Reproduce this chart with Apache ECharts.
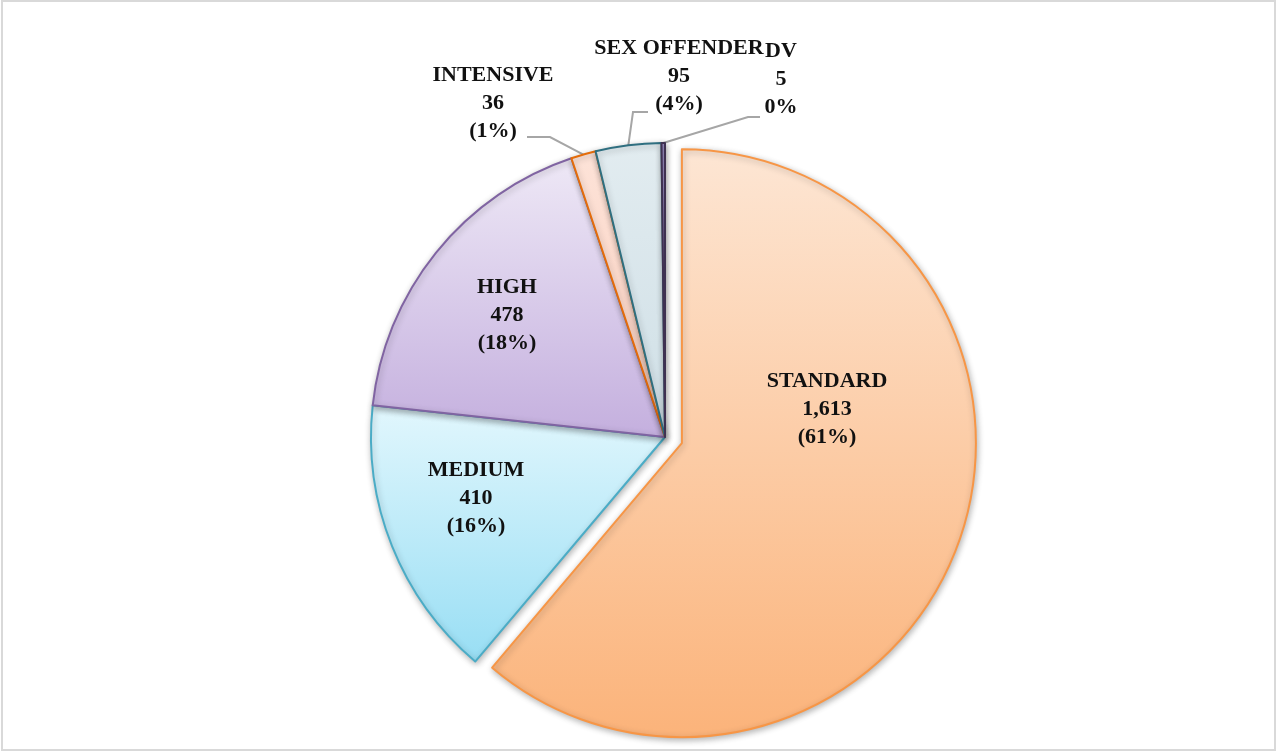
<!DOCTYPE html>
<html>
<head>
<meta charset="utf-8">
<script src="https://cdn.jsdelivr.net/npm/echarts@6/dist/echarts.min.js"></script>
<style>
html,body{margin:0;padding:0;background:#fff;}
#chart{width:1278px;height:754px;}
</style>
</head>
<body>
<div id="chart"></div>
<script>
// ---- data ----
const categories = ['STANDARD', 'MEDIUM', 'HIGH', 'INTENSIVE', 'SEX OFFENDER', 'DV'];
const values = [1613, 410, 478, 36, 95, 5];
const percentInParens = [true, true, true, true, true, false];

// ---- styles / layout ----
const fillTop = ['#fde6d4', '#e2f7fd', '#eee8f6', '#fde3d8', '#e2ecf0', '#9a8cc0'];
const fillBottom = ['#fbb37a', '#98def4', '#c4afde', '#f9cdbd', '#cfdfe6', '#6f5f9e'];
const borderColors = ['#f79646', '#4bacc6', '#8064a2', '#e46c0a', '#2f6f80', '#3f3151'];
const labelPos = [[827, 409], [476, 498], [507, 315], [493, 103], [679, 76], [781, 79]];
const showLine = [false, false, false, true, true, true];
// leader attach point relative to label centre, and horizontal run length
const lineAttach = [null, null, null, [34, 34, 23], [-31, 36, -15], [-21, 38, -12]];
const explodedIndex = 0;
const explodeOffset = 18;
const pieCenter = [665, 437];
const pieRadius = 294;

const total = values.reduce((a, b) => a + b, 0);

// centre of the exploded slice, from its mid angle
let before = 0;
for (let i = 0; i < explodedIndex; i++) before += values[i];
const midFrac = (before + values[explodedIndex] / 2) / total;
const midAng = midFrac * Math.PI * 2; // clockwise from 12 o'clock
const explodedCenter = [pieCenter[0] + explodeOffset * Math.sin(midAng), pieCenter[1] - explodeOffset * Math.cos(midAng)];

function makeData(visibleFn) {
  return categories.map((name, i) => {
    const vis = visibleFn(i);
    return {
      name: name,
      value: values[i],
      itemStyle: vis ? {
        color: {
          type: 'linear', x: 0, y: 0, x2: 0, y2: 1,
          colorStops: [{offset: 0, color: fillTop[i]}, {offset: 1, color: fillBottom[i]}]
        },
        borderColor: borderColors[i],
        borderWidth: 2,
        shadowBlur: 6,
        shadowColor: 'rgba(0,0,0,0.28)',
        shadowOffsetX: 1,
        shadowOffsetY: 2
      } : {color: 'rgba(0,0,0,0)', borderWidth: 0, shadowBlur: 0, shadowColor: 'rgba(0,0,0,0)'},
      label: {show: vis},
      labelLine: {show: vis && showLine[i]}
    };
  });
}

const labelOpt = {
  show: true,
  position: 'outside',
  fontFamily: 'Liberation Serif',
  fontWeight: 'bold',
  fontSize: 22,
  lineHeight: 28,
  color: '#111111',
  align: 'center',
  formatter: function (p) {
    const pct = Math.round(p.value / total * 100);
    const v = p.value.toLocaleString('en-US');
    const pctText = percentInParens[p.dataIndex] ? '(' + pct + '%)' : pct + '%';
    return p.name + '\n' + v + '\n' + pctText;
  }
};

function labelLayout(p) {
  const pos = labelPos[p.dataIndex];
  const res = {x: pos[0], y: pos[1], align: 'center', verticalAlign: 'middle'};
  const at = lineAttach[p.dataIndex];
  if (at && p.labelLinePoints && p.labelLinePoints.length) {
    const p0 = p.labelLinePoints[0];
    const p2 = [pos[0] + at[0], pos[1] + at[1]];
    const p1 = [p2[0] + at[2], p2[1]];
    res.labelLinePoints = [[p0[0], p0[1]], p1, p2];
  }
  return res;
}

const common = {
  type: 'pie',
  radius: [0, pieRadius],
  startAngle: 90,
  clockwise: true,
  avoidLabelOverlap: false,
  emphasis: {disabled: true},
  label: labelOpt,
  labelLine: {
    length: 15,
    length2: 20,
    smooth: false,
    lineStyle: {color: '#a6a6a6', width: 2}
  },
  labelLayout: labelLayout
};

const chart = echarts.init(document.getElementById('chart'), null, {renderer: 'canvas'});
chart.setOption({
  animation: false,
  backgroundColor: '#ffffff',
  graphic: [{
    type: 'rect',
    shape: {x: 2, y: 1, width: 1273, height: 749},
    style: {fill: 'none', stroke: '#d9d9d9', lineWidth: 2},
    silent: true,
    z: 100
  }],
  series: [
    Object.assign({}, common, {
      name: 'base',
      center: pieCenter,
      data: makeData(i => i !== explodedIndex)
    }),
    Object.assign({}, common, {
      name: 'exploded',
      center: explodedCenter,
      data: makeData(i => i === explodedIndex)
    })
  ]
});
</script>
</body>
</html>
